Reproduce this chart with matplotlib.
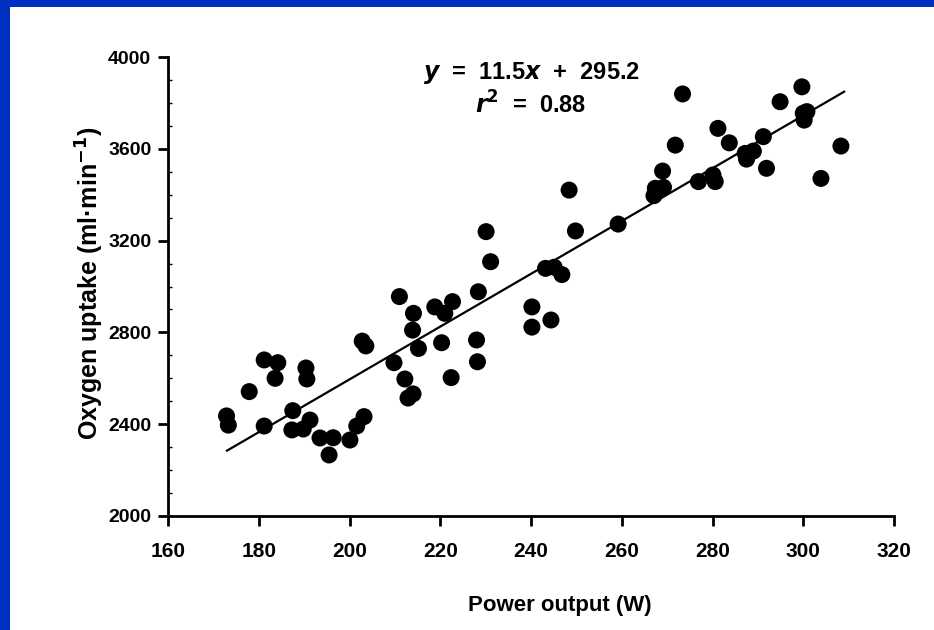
import matplotlib
matplotlib.use("Agg")
import matplotlib.pyplot as plt
from matplotlib.patches import Rectangle
from matplotlib.ticker import MultipleLocator

power_w = [172.9, 173.3, 177.9, 181.2, 184.2, 183.6, 181.2, 187.5, 187.3, 190.4,
           190.6, 191.3, 189.8, 193.5, 196.4, 195.5, 200.1, 201.6, 203.2, 202.8,
           203.6, 209.8, 211.0, 212.2, 212.9, 214.0, 213.9, 214.1, 215.2, 218.8,
           221.0, 222.7, 220.3, 222.4, 228.4, 228.0, 228.2, 230.1, 231.1, 240.2,
           240.2, 244.4, 243.2, 245.1, 246.8, 248.4, 249.8, 259.2, 267.4, 269.2,
           267.1, 269.0, 271.8, 273.4, 276.9, 280.1, 280.6, 281.2, 283.7, 287.2,
           289.0, 287.5, 291.2, 291.9, 294.9, 299.7, 300.0, 300.8, 300.2, 303.9,
           308.3]
vo2_ml = [2436, 2396, 2542, 2680, 2668, 2600, 2392, 2459, 2375, 2645,
          2597, 2418, 2379, 2340, 2341, 2266, 2331, 2392, 2433, 2762,
          2741, 2668, 2956, 2597, 2514, 2532, 2810, 2883, 2730, 2911,
          2883, 2934, 2755, 2603, 2977, 2767, 2672, 3239, 3108, 2911,
          2823, 2854, 3079, 3084, 3052, 3420, 3242, 3272, 3428, 3432,
          3396, 3503, 3616, 3839, 3457, 3486, 3457, 3689, 3626, 3580,
          3590, 3555, 3653, 3515, 3805, 3870, 3755, 3762, 3725, 3471,
          3612]
slope = 11.5
intercept = 295.2
r_squared = 0.88
fit_range = [173, 309]
x_ticks = [160, 180, 200, 220, 240, 260, 280, 300, 320]
y_ticks = [2000, 2400, 2800, 3200, 3600, 4000]

FONT = "Liberation Sans"

W, H = 934, 630
fig = plt.figure(figsize=(W / 100, H / 100), dpi=100, facecolor="#0030C0")
fig.patches.append(Rectangle((10 / W, 0), 1 - 10 / W, 1 - 7 / H,
                             transform=fig.transFigure, facecolor="white",
                             edgecolor="none", zorder=-5))

ax = fig.add_axes([168 / W, (H - 516) / H, (894 - 168) / W, (516 - 57) / H])
ax.set_zorder(2)
ax.set_facecolor("none")
ax.scatter(power_w, vo2_ml, s=150, color="black", edgecolors="none", zorder=3,
           clip_on=False)
fx = fit_range
fy = [slope * v + intercept for v in fx]
ax.plot(fx, fy, color="black", lw=1.6, zorder=2)

ax.set_xlim(160, 320)
ax.set_ylim(2000, 4000)
ax.set_xticks(x_ticks)
ax.set_yticks(y_ticks)
ax.yaxis.set_minor_locator(MultipleLocator(100))
ax.spines["top"].set_visible(False)
ax.spines["right"].set_visible(False)
for s in ("left", "bottom"):
    ax.spines[s].set_linewidth(2)
ax.tick_params(axis="both", which="major", direction="out", length=7, width=2)
ax.tick_params(axis="x", which="major", pad=12)
ax.tick_params(axis="y", which="major", pad=5)
ax.tick_params(axis="y", which="minor", direction="in", length=3, width=1)
for lab in ax.get_xticklabels():
    lab.set_fontfamily(FONT)
    lab.set_fontweight("bold")
    lab.set_fontsize(15)
for lab in ax.get_yticklabels():
    lab.set_fontfamily(FONT)
    lab.set_fontweight("bold")
    lab.set_fontsize(14)

ax.set_xlabel("Power output (W)", family=FONT, weight="bold", size=16)
ax.xaxis.set_label_coords((560 - 168) / 726, -(605 - 516) / 459)
ax.xaxis.label.set_verticalalignment("center")
ax.set_ylabel(r"Oxygen uptake (ml·min$^{\mathbf{-1}}$)",
              family=FONT, weight="bold", size=18)
ax.yaxis.set_label_coords(-(168 - 90) / 726, (516 - 283) / 459)
ax.yaxis.label.set_verticalalignment("center")

fnt = dict(family=FONT, weight="bold", size=17)
ax.text(240, 3932, f"$\\mathbfit{{y}}$  =  {slope}$\\mathbfit{{x}}$  +  {intercept}",
        ha="center", va="center", **fnt)
ax.text(240, 3790, f"$\\mathbfit{{r}}^{{\\mathbf{{2}}}}$  =  {r_squared}",
        ha="center", va="center", **fnt)

fig.savefig("out.png", dpi=100, facecolor=fig.get_facecolor())
